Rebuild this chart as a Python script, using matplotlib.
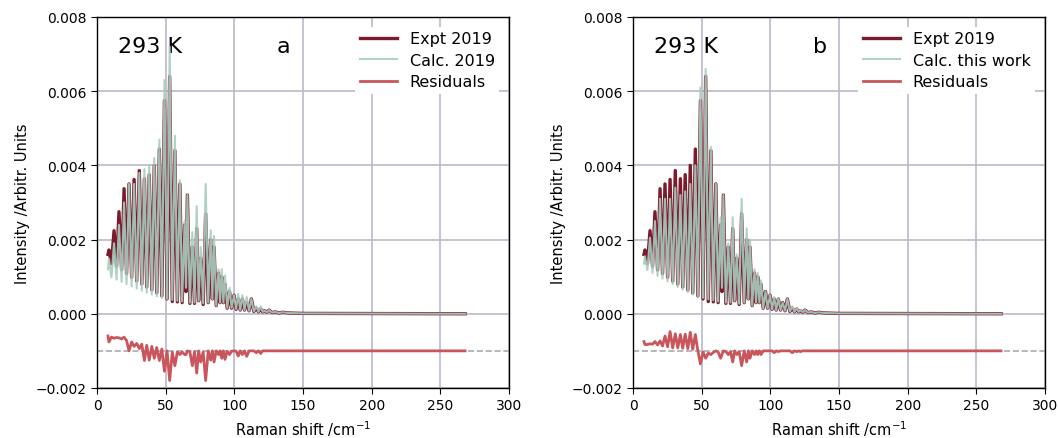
import numpy as np
import matplotlib
matplotlib.use("Agg")
import matplotlib.pyplot as plt

# Raman shift vertices (cm^-1): peaks and troughs
raman_shift = [8.0, 8.7, 10.5, 12.4, 14.2, 16.0, 17.9, 19.7, 21.5, 23.3,
               25.2, 27.0, 28.9, 30.8, 32.6, 34.5, 36.2, 38.0, 39.9, 41.7,
               43.5, 45.4, 47.2, 49.1, 51.0, 52.9, 54.8, 56.7, 58.5, 60.3,
               62.0, 63.8, 64.8, 65.8, 67.6, 69.4, 71.0, 72.6, 74.0, 75.5,
               77.3, 79.1, 81.0, 82.8, 84.0, 85.2, 86.8, 88.5, 89.6, 90.8,
               92.0, 93.2, 94.8, 96.5, 98.0, 99.8, 101.3, 102.8, 104.3, 105.8,
               107.4, 109.0, 110.7, 112.4, 114.2, 116.0, 117.6, 119.2, 120.6, 122.0,
               123.6, 125.2, 127.5, 130.0, 132.5, 135.0, 140.0, 150.0, 268.0]

expt_2019 = [0.00160, 0.00172, 0.00135, 0.00224, 0.00128, 0.00275, 0.00118, 0.00337, 0.00108, 0.00350,
             0.00098, 0.00362, 0.00088, 0.00386, 0.00080, 0.00364, 0.00072, 0.00375, 0.00064, 0.00400,
             0.00056, 0.00444, 0.00048, 0.00575, 0.00040, 0.00640, 0.00033, 0.00440, 0.00032, 0.00350,
             0.00030, 0.00240, 0.00060, 0.00320, 0.00028, 0.00180, 0.00028, 0.00230, 0.00035, 0.00150,
             0.00025, 0.00270, 0.00030, 0.00200, 0.00040, 0.00180, 0.00022, 0.00110, 0.00030, 0.00100,
             0.00030, 0.00080, 0.00015, 0.00060, 0.00015, 0.00050, 0.00012, 0.00040, 0.00010, 0.00040,
             0.00010, 0.00030, 0.00008, 0.00040, 0.00006, 0.00015, 0.00005, 0.00013, 0.00005, 0.00008,
             0.00004, 0.00010, 0.00003, 0.00005, 0.00002, 0.00004, 0.00002, 0.00001, 0.00000]

calc_2019 = [0.00120, 0.00148, 0.00098, 0.00190, 0.00092, 0.00240, 0.00086, 0.00300, 0.00080, 0.00350,
             0.00074, 0.00350, 0.00068, 0.00380, 0.00062, 0.00390, 0.00057, 0.00400, 0.00052, 0.00420,
             0.00047, 0.00470, 0.00043, 0.00630, 0.00040, 0.00720, 0.00037, 0.00480, 0.00035, 0.00360,
             0.00033, 0.00250, 0.00070, 0.00320, 0.00030, 0.00220, 0.00030, 0.00290, 0.00035, 0.00180,
             0.00028, 0.00350, 0.00030, 0.00225, 0.00040, 0.00210, 0.00022, 0.00120, 0.00030, 0.00120,
             0.00030, 0.00103, 0.00016, 0.00070, 0.00016, 0.00050, 0.00013, 0.00054, 0.00010, 0.00050,
             0.00010, 0.00045, 0.00008, 0.00040, 0.00006, 0.00020, 0.00005, 0.00020, 0.00005, 0.00008,
             0.00004, 0.00010, 0.00003, 0.00005, 0.00002, 0.00004, 0.00002, 0.00001, 0.00000]

calc_this_work = [0.00135, 0.00155, 0.00118, 0.00205, 0.00110, 0.00250, 0.00102, 0.00310, 0.00095, 0.00310,
                  0.00087, 0.00310, 0.00080, 0.00340, 0.00072, 0.00320, 0.00065, 0.00330, 0.00058, 0.00350,
                  0.00052, 0.00400, 0.00047, 0.00610, 0.00043, 0.00660, 0.00039, 0.00450, 0.00036, 0.00350,
                  0.00033, 0.00260, 0.00070, 0.00320, 0.00030, 0.00190, 0.00030, 0.00260, 0.00035, 0.00160,
                  0.00027, 0.00310, 0.00030, 0.00230, 0.00040, 0.00200, 0.00022, 0.00120, 0.00030, 0.00110,
                  0.00030, 0.00090, 0.00015, 0.00060, 0.00015, 0.00050, 0.00012, 0.00045, 0.00010, 0.00042,
                  0.00010, 0.00030, 0.00008, 0.00040, 0.00006, 0.00020, 0.00005, 0.00015, 0.00005, 0.00010,
                  0.00004, 0.00010, 0.00003, 0.00005, 0.00002, 0.00004, 0.00002, 0.00001, 0.00000]

resid_offset = -0.001
panels = [("a", "Calc. 2019", calc_2019), ("b", "Calc. this work", calc_this_work)]

c_expt = "#7b1b2b"
c_calc = "#a8ccbf"
c_res = "#c9565c"
c_grid = "#bbb8c9"

x = np.array(raman_shift)
expt = np.array(expt_2019)

fig = plt.figure(figsize=(10.58, 4.39), dpi=100)
positions = [[0.0917, 0.114, 0.3894, 0.845], [0.5983, 0.114, 0.3894, 0.845]]

for pos, (tag, calc_label, calc_vals) in zip(positions, panels):
    ax = fig.add_axes(pos)
    calc = np.array(calc_vals)
    resid = expt - calc + resid_offset

    ax.plot(x, expt, color=c_expt, lw=2.4, label="Expt 2019", zorder=3)
    ax.plot(x, calc, color=c_calc, lw=1.5, alpha=0.9, label=calc_label, zorder=4)
    ax.plot(x, resid, color=c_res, lw=2.0, label="Residuals", zorder=4)
    ax.axhline(resid_offset, color="#aaaaaa", ls="--", lw=1.2, zorder=2)

    ax.set_xlim(0, 300)
    ax.set_ylim(-0.002, 0.008)
    ax.set_xticks(np.arange(0, 301, 50))
    yt = np.arange(-0.002, 0.0081, 0.002)
    ax.set_yticks(yt)
    ax.set_yticklabels([f"{v:.3f}".replace("-", "\u2212") for v in yt])
    ax.grid(True, color=c_grid, lw=1.2, zorder=0)
    ax.set_axisbelow(True)
    ax.tick_params(labelsize=10, direction="out", length=4)
    for s in ax.spines.values():
        s.set_color("black")
        s.set_linewidth(1.0)

    ax.set_xlabel("Raman shift /cm$^{-1}$", fontsize=10.5)
    ax.set_ylabel("Intensity /Arbitr. Units", fontsize=10.5)

    ax.text(15, 0.00705, "293 K", fontsize=16)
    ax.text(131, 0.00705, tag, fontsize=16)

    ax.legend(loc="upper right", fontsize=11.5, frameon=True, framealpha=1,
              edgecolor="none", borderaxespad=0.6, labelspacing=0.4,
              handlelength=2.3, borderpad=0.3)

fig.savefig("out.png", dpi=100)
